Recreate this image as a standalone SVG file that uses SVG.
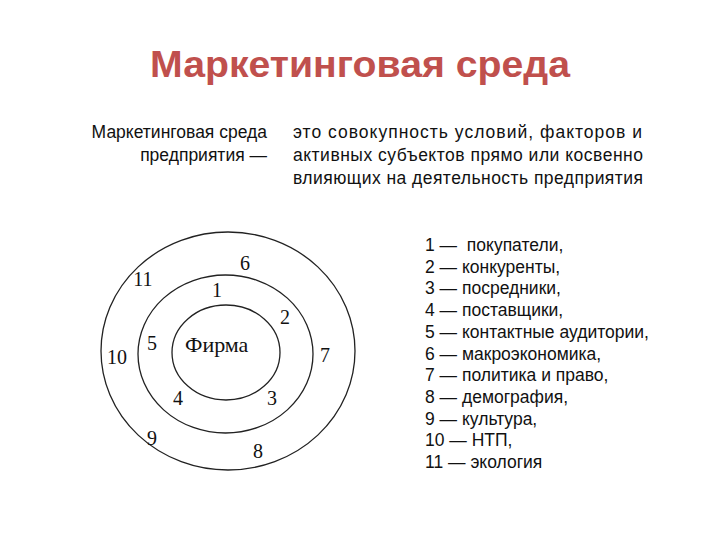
<svg xmlns="http://www.w3.org/2000/svg" width="720" height="540" viewBox="0 0 720 540">
<style>
.title{font-family:"Liberation Sans","Open Sans",Arial,sans-serif;font-weight:bold;font-size:36px;fill:#c0504d}
.t{font-family:"Liberation Sans",Arial,sans-serif;font-size:17.5px;fill:#111}
.r{text-anchor:end}
.num{font-family:"Liberation Serif","Times New Roman",serif;font-size:20px;fill:#111;text-anchor:middle}
.firm{font-family:"Liberation Serif","Times New Roman",serif;font-size:22px;fill:#111}
.ring{fill:none;stroke:#222;stroke-width:1.3}
</style>
<rect width="720" height="540" fill="#fff"/>
<text class="title" x="360" y="77" text-anchor="middle" textLength="420" lengthAdjust="spacingAndGlyphs">Маркетинговая среда</text>
<g id="definition">
<text class="t r" x="267" y="138">Маркетинговая среда</text>
<text class="t r" x="267" y="161">предприятия —</text>
<text class="t" x="293" y="138" textLength="349">это совокупность условий, факторов и</text>
<text class="t" x="293" y="161" textLength="350">активных субъектов прямо или косвенно</text>
<text class="t" x="293" y="184" textLength="350">влияющих на деятельность предприятия</text>
</g>
<g id="rings">
<g id="outer"><ellipse class="ring" cx="228" cy="351" rx="127" ry="119"/></g>
<g id="middle"><ellipse class="ring" cx="225.5" cy="354" rx="87.5" ry="79"/></g>
<g id="inner"><ellipse class="ring" cx="226" cy="352.5" rx="54" ry="47.5"/><text class="firm" x="185" y="352">Фирма</text></g>
</g>
<g id="numbers">
<text class="num" x="245" y="270">6</text>
<text class="num" x="143" y="286">11</text>
<text class="num" x="217" y="297">1</text>
<text class="num" x="285" y="324">2</text>
<text class="num" x="152" y="350">5</text>
<text class="num" x="117" y="364">10</text>
<text class="num" x="325" y="362">7</text>
<text class="num" x="178" y="405">4</text>
<text class="num" x="272" y="405">3</text>
<text class="num" x="152" y="445">9</text>
<text class="num" x="258" y="458">8</text>
</g>
<g id="legend">
<text class="t" x="425" y="251">1 — &#160;покупатели,</text>
<text class="t" x="425" y="272.7">2 — конкуренты,</text>
<text class="t" x="425" y="294.4">3 — посредники,</text>
<text class="t" x="425" y="316.1">4 — поставщики,</text>
<text class="t" x="425" y="337.8">5 — контактные аудитории,</text>
<text class="t" x="425" y="359.5">6 — макроэкономика,</text>
<text class="t" x="425" y="381.2">7 — политика и право,</text>
<text class="t" x="425" y="402.9">8 — демография,</text>
<text class="t" x="425" y="424.6">9 — культура,</text>
<text class="t" x="425" y="446.3">10 — НТП,</text>
<text class="t" x="425" y="468">11 — экология</text>
</g>
</svg>
